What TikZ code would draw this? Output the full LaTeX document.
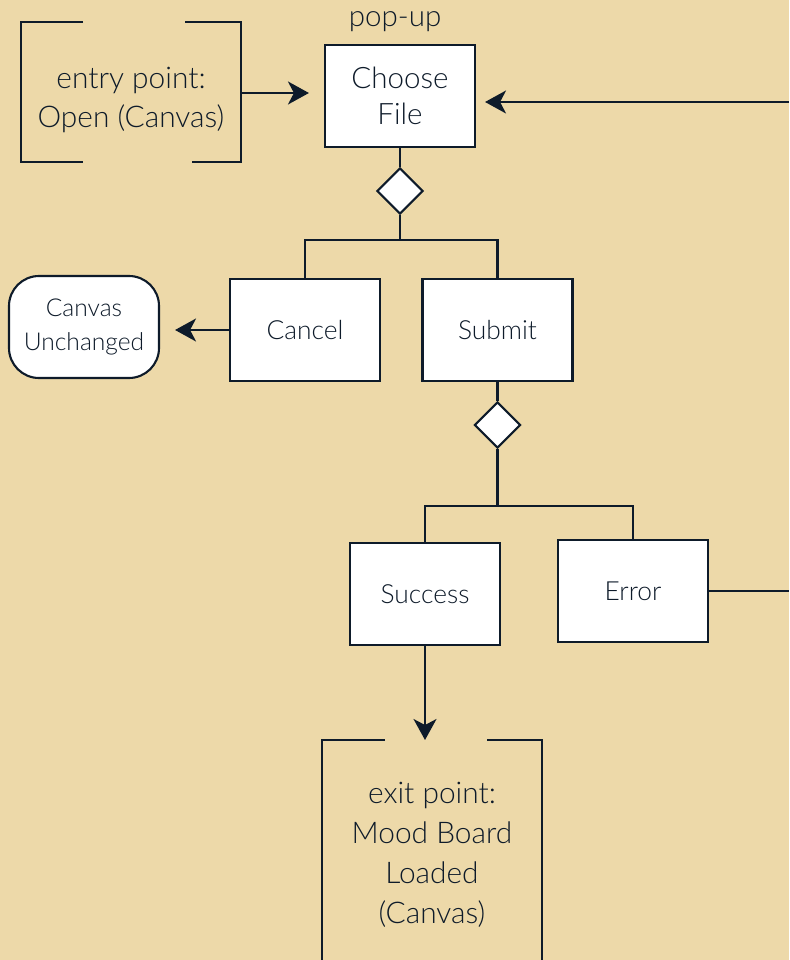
\documentclass[tikz,border=0pt]{standalone}
\usepackage{fontspec}
\setmainfont{Lato}[UprightFont=* Light]
\usetikzlibrary{arrows.meta, shapes.geometric}
\definecolor{board}{HTML}{EDD9A9}
\definecolor{ink}{HTML}{0E1B2A}
\tikzset{>={Stealth[length=4.2mm,width=4.6mm,inset=1.2mm]}}
\tikzset{
  screen/.style={draw, fill=white, minimum width=3cm, minimum height=2.04cm,
    align=center, font=\fontsize{15}{19}\selectfont},
  choice/.style={diamond, draw, fill=white, minimum width=0.92cm,
    minimum height=0.92cm, inner sep=0pt},
  endpoint/.style={minimum width=4.4cm, outer sep=0pt, align=center,
    font=\fontsize{17}{22.7}\selectfont},
}

\begin{document}
\begin{tikzpicture}[color=ink, line width=1.2pt]
      \fill[board] (0,0) rectangle (15.78,-19.2);
      \useasboundingbox (0,0) rectangle (15.78,-19.2);

      \node[endpoint, minimum height=2.8cm] (entry) at (2.62,-2) {entry point:\\Open (Canvas)};
      \node[screen, font=\fontsize{16.8}{20.4}\selectfont] (choose) at (8,-1.92) {Choose\\File};
      \node[anchor=base, font=\fontsize{16.8}{20}\selectfont] (popup) at (7.9,-0.54) {pop-up};
      \node[choice] (pick) at (8,-3.82) {};
      \coordinate (fork1) at (8,-4.8);
      \node[screen] (cancel) at (6.1,-6.6) {Cancel};
      \node[screen] (submit) at (9.95,-6.6) {Submit};
      \node[screen, rounded corners=0.6cm, font=\fontsize{14}{19}\selectfont] (unchanged) at (1.68,-6.54) {Canvas\\Unchanged};
      \node[choice] (check) at (9.95,-8.5) {};
      \coordinate (fork2) at (9.95,-10.12);
      \node[screen] (success) at (8.5,-11.88) {Success};
      \node[screen] (error) at (12.66,-11.82) {Error};
      \node[endpoint, minimum height=4.6cm] (exitpt) at (8.64,-17.1) {exit point:\\Mood Board\\Loaded\\(Canvas)};
      \coordinate (retry) at (15.78,-2.04);
      \coordinate (fail) at (15.78,-11.8);

      % brackets
      \draw ([yshift=0.16cm]entry.north west) ++(1.24,0) -| ([yshift=0.16cm]entry.south west) -- ++(1.24,0);
      \draw ([yshift=0.16cm]entry.north east) ++(-1.12,0) -| ([yshift=0.16cm]entry.south east) -- ++(-0.98,0);
      \draw (exitpt.north west) ++(1.26,0) -| (exitpt.south west);
      \draw (exitpt.north east) ++(-1.1,0) -| (exitpt.south east);

      \draw[->, shorten >=0.3cm] ([yshift=0.14cm]entry.east) -- ([yshift=0.14cm]entry.east -| choose.west);
      \draw[->, shorten >=0.18cm] (retry) -- (retry -| choose.east);
      \draw (choose) -- (pick);
      \draw (pick) -- (fork1);
      \draw (cancel) |- (fork1) -| (submit);
      \draw[->, shorten >=0.3cm] (cancel) -- (cancel -| unchanged.east);
      \draw (submit) -- (check);
      \draw (check) -- (fork2);
      \draw (success) |- (fork2) -| (error);
      \draw (error.east) -- (error.east -| fail);
      \draw[->] (success) -- (success |- exitpt.north);
    \end{tikzpicture}
\end{document}
